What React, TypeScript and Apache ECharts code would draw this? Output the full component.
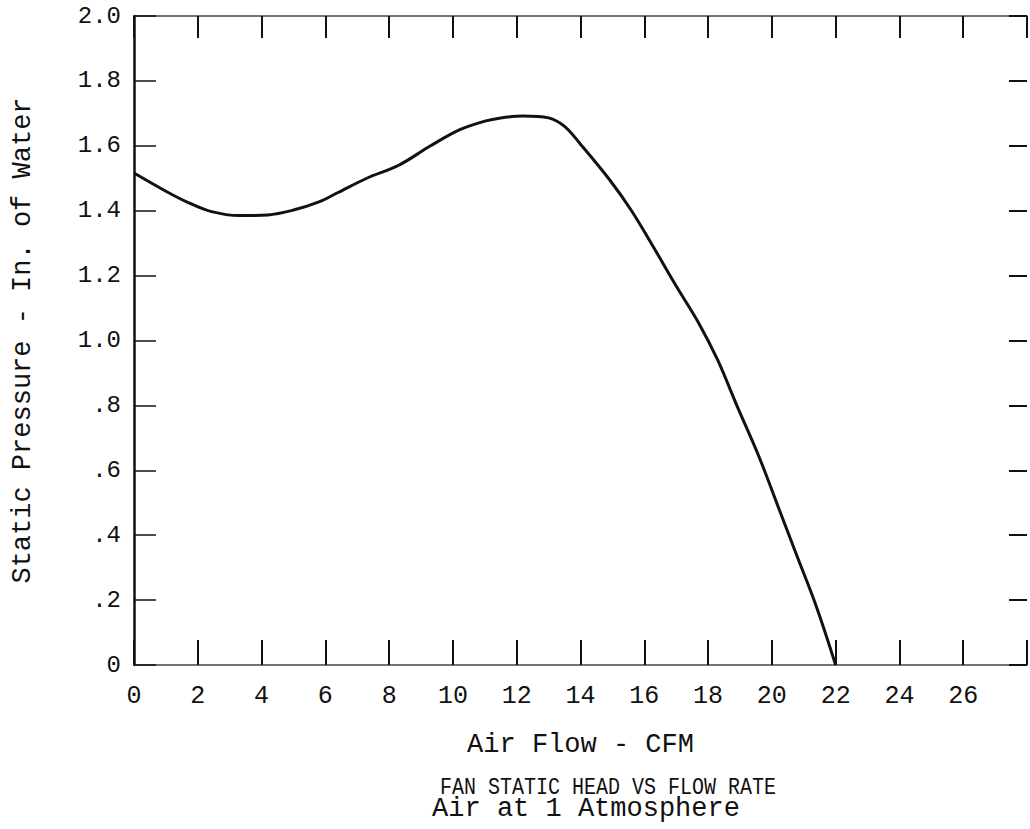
import React, { useEffect, useRef } from "react";
import * as echarts from "echarts";

const flowCfm = [0, 1, 1.7, 2.4, 3.3, 4.2, 5, 5.8, 6.4, 7.3, 8.3, 9.3, 10.2, 11, 11.5, 12.2, 13, 13.5, 14, 14.9, 15.6, 16.3, 17, 17.7, 18.3, 18.9, 19.6, 20.2, 20.8, 21.4, 22];
const staticPressure = [1.516, 1.46, 1.425, 1.398, 1.385, 1.387, 1.402, 1.427, 1.456, 1.5, 1.54, 1.6, 1.649, 1.676, 1.686, 1.692, 1.686, 1.66, 1.605, 1.497, 1.4, 1.286, 1.168, 1.055, 0.94, 0.8, 0.641, 0.487, 0.333, 0.179, 0];

const xAxisName = "Air Flow - CFM";
const yAxisName = "Static Pressure - In. of Water";
const titleLine1 = "FAN STATIC HEAD VS FLOW RATE";
const titleLine2 = "Air at 1 Atmosphere";

const FONT = "'Liberation Mono', 'DejaVu Sans Mono', monospace";

export default function App() {
  const ref = useRef<HTMLDivElement>(null);
  useEffect(() => {
    if (!ref.current) return;
    const chart = echarts.init(ref.current, undefined, { renderer: "svg" });
    const data = flowCfm.map((x, i) => [x, staticPressure[i]]);
    const yFmt = (v: number) => (v === 0 ? "0" : v < 0.999 ? "." + Math.round(v * 10) : v.toFixed(1));
    chart.setOption({
      animation: false,
      backgroundColor: "#ffffff",
      grid: { left: 134, right: 0, top: 16, bottom: 164, containLabel: false },
      xAxis: [
        {
          type: "value",
          position: "bottom",
          min: 0,
          max: 28,
          interval: 2,
          name: xAxisName,
          nameLocation: "middle",
          nameGap: 80,
          nameTextStyle: { fontFamily: FONT, fontSize: 27, color: "#111", verticalAlign: "middle" },
          axisLine: { show: true, onZero: false, lineStyle: { color: "#444", width: 1.5 } },
          axisTick: { show: true, inside: true, length: 25, lineStyle: { color: "#111", width: 2 } },
          axisLabel: {
            show: true,
            margin: 19,
            fontFamily: FONT,
            fontSize: 25,
            color: "#111",
            formatter: (v: number) => (v >= 28 ? "" : String(v)),
          },
          splitLine: { show: false },
        },
        {
          type: "value",
          position: "top",
          min: 0,
          max: 28,
          interval: 2,
          axisLine: { show: true, onZero: false, lineStyle: { color: "#444", width: 1.5 } },
          axisTick: { show: true, inside: true, length: 22, lineStyle: { color: "#111", width: 2 } },
          axisLabel: { show: false },
          splitLine: { show: false },
        },
      ],
      yAxis: [
        {
          type: "value",
          position: "left",
          min: 0,
          max: 2,
          interval: 0.2,
          name: yAxisName,
          nameLocation: "middle",
          nameRotate: 90,
          nameGap: 111,
          nameTextStyle: { fontFamily: FONT, fontSize: 27, color: "#111", verticalAlign: "middle" },
          axisLine: { show: true, onZero: false, lineStyle: { color: "#111", width: 2.5 } },
          axisTick: { show: true, inside: true, length: 22, lineStyle: { color: "#111", width: 1.5 } },
          axisLabel: { show: true, margin: 13, fontFamily: FONT, fontSize: 24, color: "#111", formatter: yFmt },
          splitLine: { show: false },
        },
        {
          type: "value",
          position: "right",
          min: 0,
          max: 2,
          interval: 0.2,
          axisLine: { show: false, onZero: false },
          axisTick: { show: true, inside: true, length: 18, lineStyle: { color: "#111", width: 2 } },
          axisLabel: { show: false },
          splitLine: { show: false },
        },
      ],
      series: [
        {
          type: "line",
          xAxisIndex: 0,
          yAxisIndex: 0,
          data,
          smooth: 0.35,
          showSymbol: false,
          symbol: "none",
          lineStyle: { color: "#111", width: 3 },
        },
      ],
      graphic: [
        {
          type: "text",
          x: 608,
          y: 788,
          scaleY: 1.2,
          style: { text: titleLine1, font: `20px ${FONT}`, fill: "#111", textAlign: "center", textVerticalAlign: "middle" },
        },
        {
          type: "text",
          x: 586,
          y: 809,
          style: { text: titleLine2, font: `27px ${FONT}`, fill: "#111", textAlign: "center", textVerticalAlign: "middle" },
        },
      ],
    });
    return () => chart.dispose();
  }, []);
  return <div ref={ref} style={{ position: "fixed", left: 0, top: 0, width: 1030, height: 829 }} />;
}
